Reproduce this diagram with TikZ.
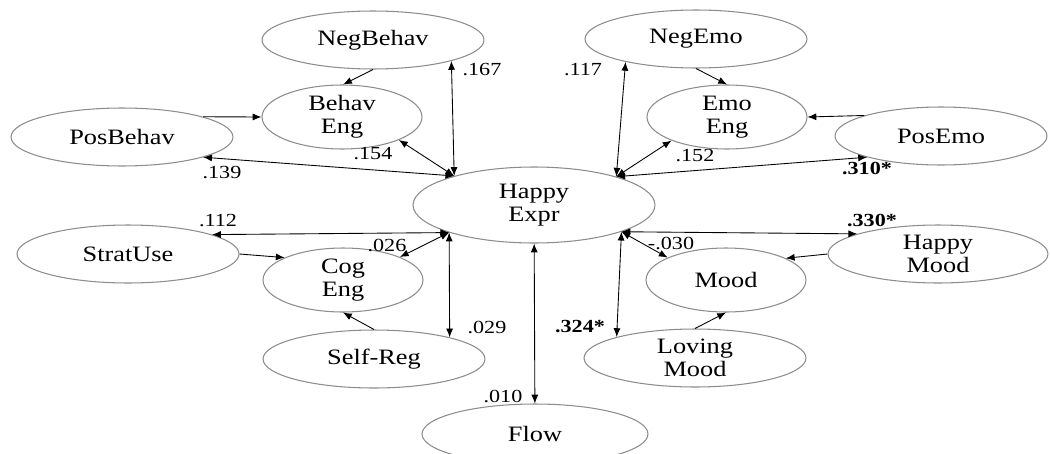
\documentclass[tikz,border=0pt]{standalone}
\usepackage{fontspec}
\setmainfont{Liberation Serif}[FakeStretch=1.2]
\usetikzlibrary{arrows.meta, positioning, shapes.geometric}
\tikzstyle{var} = [ellipse, draw=black!45, line width=0.6pt, inner sep=0pt,
minimum width=4.44cm,
minimum height=1.16cm,
align=center,
font=\fontsize{12.5}{13}\selectfont]
\tikzstyle{eng} = [var, minimum width=3.2cm, minimum height=1.28cm]
\tikzstyle{arrow} = [-{Latex[length=5pt,width=4pt]}, line width=0.5pt]
\tikzstyle{both} = [{Latex[length=5pt,width=4pt]}-{Latex[length=5pt,width=4pt]}, line width=0.5pt]
\tikzstyle{lbl} = [font=\fontsize{10.5}{11}\selectfont, inner sep=0pt]

\begin{document}
\begin{tikzpicture}[x=0.02cm, y=-0.02cm]

				\useasboundingbox (0,0) rectangle (1050,453);

				\node[var, minimum width=4.84cm, minimum height=1.52cm] (happyexpr) at (534,205) {Happy\\Expr};

				\node[var] (negbehav) at (373,40) {NegBehav};
				\node[eng] (behaveng) at (342,117) {Behav\\Eng};
				\node[var] (posbehav) at (122,137) {PosBehav};

				\node[var] (negemo) at (696,39) {NegEmo};
				\node[eng] (emoeng) at (727,117) {Emo\\Eng};
				\node[var, minimum width=4.24cm] (posemo) at (941,136) {PosEmo};

				\node[var] (stratuse) at (128,254) {StratUse};
				\node[eng] (cogeng) at (343,280) {Cog\\Eng};
				\node[var] (selfreg) at (374,359) {Self-Reg};

				\node[var, minimum width=4.4cm] (happymood) at (938,254) {Happy\\Mood};
				\node[eng] (mood) at (726,280) {Mood};
				\node[var] (lovingmood) at (695,358) {Loving\\Mood};

				\node[var, minimum width=4.52cm, minimum height=1.2cm] (flow) at (535,434) {Flow};

				% corners of Happy Expr where the arrows meet
				\coordinate (tl) at (happyexpr.160);
				\coordinate (tr) at (happyexpr.19);
				\coordinate (bl) at (happyexpr.198);
				\coordinate (br) at (happyexpr.343);

				% Edges
				\draw[arrow] (negbehav.270) -- (behaveng.88);
				\draw[arrow] (posbehav.14) -- (behaveng.180);
				\draw[arrow] (negemo.270) -- (emoeng.90);
				\draw[arrow] (posemo.165) -- (emoeng.0);
				\draw[arrow] (stratuse.0) -- (cogeng.159);
				\draw[arrow] (selfreg.90) -- (cogeng.270);
				\draw[arrow] (happymood.180) -- (mood.20);
				\draw[arrow] (lovingmood.90) -- (mood.270);

				\draw[both] (tl) -- (negbehav.345);
				\draw[both] (tl) -- (behaveng.338);
				\draw[both] (tl) -- (posbehav.346);
				\draw[both] (tr) -- (negemo.198);
				\draw[both] (tr) -- (emoeng.203);
				\draw[both] (tr) -- (posemo.196);
				\draw[both] (bl) -- (stratuse.13);
				\draw[both] (bl) -- (cogeng.22);
				\draw[both] (bl) -- (selfreg.16);
				\draw[both] (br) -- (happymood.166);
				\draw[both] (br) -- (mood.159);
				\draw[both] (br) -- (lovingmood.165);
				\draw[both] (happyexpr) -- (flow);

				% Estimates
				\node[lbl] (l1) at (482,70) {.167};
				\node[lbl] (l2) at (373,154) {.154};
				\node[lbl] (l3) at (222,173) {.139};
				\node[lbl] (l4) at (583,70) {.117};
				\node[lbl] (l5) at (695,156) {.152};
				\node[lbl, font=\fontsize{10.5}{11}\selectfont\bfseries] (l6) at (867,168) {.310*};
				\node[lbl] (l7) at (218,221) {.112};
				\node[lbl] (l8) at (387,245) {.026};
				\node[lbl] (l9) at (487,327) {.029};
				\node[lbl] (l10) at (503,396) {.010};
				\node[lbl, font=\fontsize{10.5}{11}\selectfont\bfseries] (l11) at (872,220) {.330*};
				\node[lbl] (l12) at (671,243) {-.030};
				\node[lbl, font=\fontsize{10.5}{11}\selectfont\bfseries] (l13) at (580,327) {.324*};

			\end{tikzpicture}
\end{document}
